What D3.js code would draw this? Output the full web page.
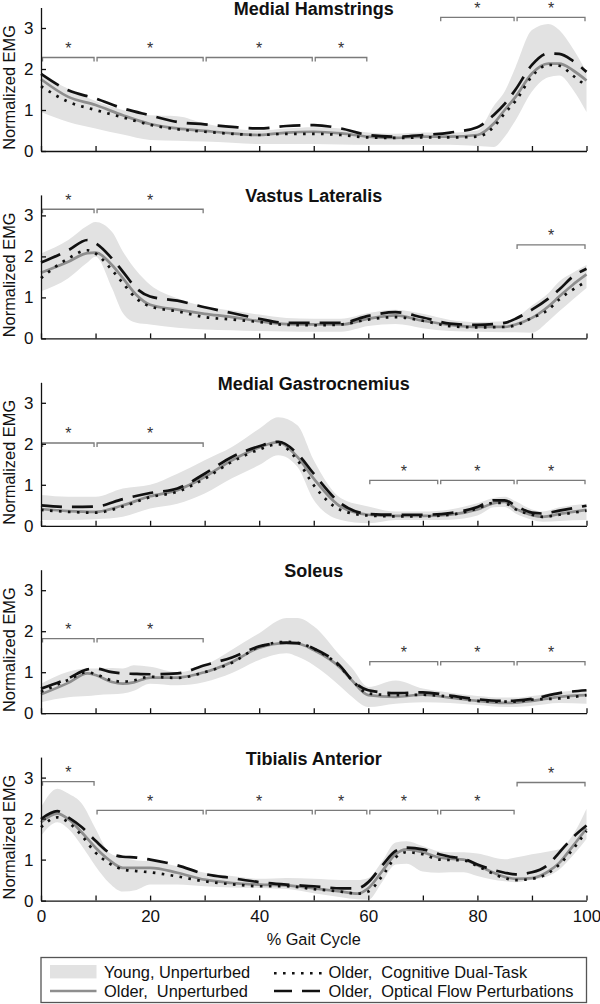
<!DOCTYPE html>
<html>
<head>
<meta charset="utf-8">
<script src="https://cdn.jsdelivr.net/npm/d3@7"></script>
<style>
  html, body { margin: 0; padding: 0; background: #fff; }
  svg { display: block; }
  text { font-family: "Liberation Sans", Arial, Helvetica, sans-serif; fill: #111; }
</style>
</head>
<body>
<script>
// ---------------- DATA ----------------
const muscleTitles = ["Medial Hamstrings", "Vastus Lateralis", "Medial Gastrocnemius", "Soleus", "Tibialis Anterior"];
const xTickValues = [0, 10, 20, 30, 40, 50, 60, 70, 80, 90, 100];
const xTickLabels = ["0", "", "20", "", "40", "", "60", "", "80", "", "100"];
const yTickValues = [0, 1, 2, 3];
const legendLabels = ["Young, Unperturbed", "Older,  Unperturbed", "Older,  Cognitive Dual-Task", "Older,  Optical Flow Perturbations"];

// Medial Hamstrings
const hamX       = [0, 5, 10, 15, 20, 25, 30, 35, 40, 45, 50, 55, 60, 65, 70, 75, 80, 83, 85, 87, 90, 93, 95, 97.5, 100];
const hamOlder   = [1.75, 1.32, 1.12, 0.87, 0.66, 0.55, 0.49, 0.43, 0.39, 0.45, 0.47, 0.43, 0.35, 0.32, 0.35, 0.35, 0.39, 0.67, 1.0, 1.32, 1.89, 2.13, 2.13, 1.97, 1.72];
const hamDual    = [1.58, 1.2, 1.0, 0.82, 0.64, 0.53, 0.47, 0.42, 0.39, 0.42, 0.42, 0.39, 0.33, 0.32, 0.33, 0.33, 0.35, 0.59, 0.92, 1.22, 1.82, 2.1, 2.08, 1.84, 1.58];
const hamOptical = [1.88, 1.48, 1.28, 1.04, 0.87, 0.71, 0.65, 0.59, 0.55, 0.61, 0.63, 0.55, 0.39, 0.35, 0.39, 0.45, 0.58, 0.88, 1.15, 1.5, 2.1, 2.38, 2.37, 2.2, 1.93];
const hamYoungHi = [1.85, 1.52, 1.22, 1.0, 0.87, 0.85, 0.67, 0.55, 0.5, 0.55, 0.58, 0.55, 0.45, 0.42, 0.45, 0.45, 0.5, 1.1, 1.45, 2.05, 2.95, 3.1, 2.95, 2.5, 1.93];
const hamYoungLo = [0.95, 0.71, 0.55, 0.4, 0.27, 0.25, 0.23, 0.2, 0.17, 0.17, 0.17, 0.16, 0.15, 0.15, 0.15, 0.15, 0.12, 0.1, 0.35, 0.75, 1.45, 1.8, 1.84, 1.5, 0.95];
const hamSig     = [[0, 10, 2.28], [10, 30, 2.28], [30, 50, 2.28], [50, 60, 2.28], [73, 87, 3.26], [87, 100, 3.26]];

// Vastus Lateralis
const vasX       = [0, 5, 8.5, 10, 13, 15, 17.5, 20, 25, 30, 35, 40, 45, 50, 55, 60, 65, 70, 75, 80, 85, 87, 90, 93, 95, 97.5, 100];
const vasOlder   = [1.6, 1.87, 2.08, 2.09, 1.79, 1.47, 1.06, 0.82, 0.7, 0.6, 0.52, 0.42, 0.35, 0.34, 0.34, 0.48, 0.56, 0.43, 0.33, 0.28, 0.28, 0.34, 0.5, 0.78, 1.02, 1.31, 1.56];
const vasDual    = [1.47, 1.95, 2.15, 2.07, 1.67, 1.35, 0.97, 0.78, 0.66, 0.52, 0.46, 0.4, 0.33, 0.32, 0.34, 0.46, 0.52, 0.43, 0.3, 0.27, 0.28, 0.32, 0.5, 0.7, 0.95, 1.19, 1.39];
const vasOptical = [1.85, 2.15, 2.4, 2.32, 1.95, 1.63, 1.22, 1.02, 0.92, 0.76, 0.62, 0.48, 0.38, 0.38, 0.38, 0.55, 0.64, 0.51, 0.36, 0.33, 0.38, 0.48, 0.7, 0.97, 1.19, 1.51, 1.7];
const vasYoungHi = [2.07, 2.4, 2.75, 2.84, 2.6, 2.12, 1.65, 1.31, 0.98, 0.78, 0.68, 0.58, 0.5, 0.48, 0.48, 0.62, 0.7, 0.6, 0.45, 0.4, 0.42, 0.5, 0.8, 1.1, 1.39, 1.6, 1.79];
const vasYoungLo = [1.15, 1.47, 1.85, 1.99, 1.23, 0.62, 0.38, 0.34, 0.26, 0.22, 0.2, 0.18, 0.17, 0.16, 0.16, 0.3, 0.35, 0.25, 0.18, 0.16, 0.15, 0.15, 0.14, 0.42, 0.66, 0.95, 1.23];
const vasSig     = [[0, 10, 3.15], [10, 30, 3.15], [87, 100, 2.28]];

// Medial Gastrocnemius
const gasX       = [0, 5, 10, 15, 20, 25, 30, 35, 40, 43.5, 47, 50, 55, 60, 65, 70, 75, 80, 83, 85, 87, 90, 92, 95, 100];
const gasOlder   = [0.41, 0.36, 0.34, 0.5, 0.72, 0.87, 1.19, 1.6, 1.91, 2.04, 1.68, 1.15, 0.46, 0.27, 0.24, 0.24, 0.27, 0.4, 0.55, 0.58, 0.42, 0.26, 0.22, 0.29, 0.39];
const gasDual    = [0.39, 0.34, 0.32, 0.47, 0.7, 0.83, 1.15, 1.56, 1.86, 1.99, 1.6, 0.99, 0.38, 0.25, 0.23, 0.23, 0.27, 0.42, 0.56, 0.55, 0.4, 0.27, 0.22, 0.27, 0.37];
const gasOptical = [0.5, 0.46, 0.47, 0.65, 0.8, 0.91, 1.27, 1.68, 1.94, 2.05, 1.76, 1.27, 0.54, 0.29, 0.27, 0.27, 0.31, 0.46, 0.62, 0.62, 0.49, 0.32, 0.3, 0.37, 0.49];
const gasYoungHi = [0.75, 0.71, 0.71, 0.91, 1.0, 1.27, 1.6, 1.92, 2.37, 2.65, 2.45, 1.6, 0.67, 0.47, 0.35, 0.35, 0.4, 0.55, 0.68, 0.71, 0.6, 0.4, 0.35, 0.45, 0.54];
const gasYoungLo = [0.14, 0.14, 0.16, 0.22, 0.42, 0.54, 0.79, 1.16, 1.48, 1.72, 1.44, 0.63, 0.14, 0.06, 0.14, 0.14, 0.15, 0.25, 0.45, 0.46, 0.3, 0.15, 0.1, 0.12, 0.14];
const gasSig     = [[0, 10, 2.02], [10, 30, 2.02], [60, 73, 1.11], [73, 87, 1.11], [87, 100, 1.11]];

// Soleus
const solX       = [0, 5, 8.5, 10, 13, 15, 17, 20, 25, 30, 35, 40, 45, 47, 50, 55, 57, 60, 65, 70, 75, 80, 85, 87, 90, 95, 100];
const solOlder   = [0.46, 0.74, 0.97, 0.93, 0.76, 0.72, 0.75, 0.87, 0.87, 1.0, 1.25, 1.6, 1.71, 1.7, 1.54, 1.09, 0.8, 0.44, 0.4, 0.45, 0.38, 0.3, 0.25, 0.26, 0.3, 0.4, 0.44];
const solDual    = [0.52, 0.81, 1.0, 0.95, 0.8, 0.77, 0.8, 0.89, 0.86, 1.0, 1.23, 1.62, 1.74, 1.72, 1.57, 1.11, 0.81, 0.48, 0.44, 0.45, 0.4, 0.3, 0.28, 0.28, 0.33, 0.36, 0.44];
const solOptical = [0.6, 0.85, 1.07, 1.09, 1.0, 0.97, 0.96, 0.95, 0.97, 1.17, 1.36, 1.63, 1.72, 1.71, 1.58, 1.13, 0.81, 0.56, 0.49, 0.51, 0.43, 0.34, 0.3, 0.31, 0.35, 0.49, 0.56];
const solYoungHi = [0.72, 1.01, 1.09, 1.09, 1.1, 1.09, 1.17, 1.13, 1.0, 1.17, 1.55, 1.95, 2.32, 2.32, 2.12, 1.38, 1.1, 0.64, 0.8, 0.6, 0.5, 0.42, 0.38, 0.38, 0.42, 0.52, 0.56];
const solYoungLo = [0.27, 0.39, 0.42, 0.44, 0.46, 0.48, 0.55, 0.72, 0.68, 0.76, 0.98, 1.3, 1.46, 1.38, 1.17, 0.64, 0.4, 0.15, 0.23, 0.27, 0.25, 0.2, 0.15, 0.15, 0.18, 0.25, 0.23];
const solSig     = [[0, 10, 1.82], [10, 30, 1.82], [60, 73, 1.26], [73, 87, 1.26], [87, 100, 1.26]];

// Tibialis Anterior
const tibX       = [0, 3, 5, 7.5, 10, 12.5, 15, 17.5, 20, 25, 30, 35, 40, 45, 50, 55, 58, 60, 62.5, 65, 67, 70, 73, 75, 77.5, 80, 85, 87, 90, 93, 95, 97.5, 100];
const tibOlder   = [1.91, 2.12, 1.99, 1.66, 1.29, 0.99, 0.8, 0.8, 0.8, 0.68, 0.51, 0.43, 0.39, 0.37, 0.3, 0.22, 0.17, 0.3, 0.71, 1.13, 1.25, 1.18, 1.05, 1.02, 1.0, 0.86, 0.58, 0.53, 0.55, 0.71, 0.92, 1.33, 1.76];
const tibDual    = [1.79, 2.03, 1.91, 1.58, 1.17, 0.91, 0.76, 0.72, 0.69, 0.59, 0.47, 0.4, 0.35, 0.35, 0.28, 0.22, 0.17, 0.22, 0.59, 1.05, 1.18, 1.13, 1.0, 0.99, 0.98, 0.84, 0.55, 0.5, 0.53, 0.67, 0.88, 1.25, 1.7];
const tibOptical = [1.99, 2.18, 2.03, 1.79, 1.46, 1.17, 1.07, 1.05, 1.0, 0.86, 0.65, 0.55, 0.45, 0.39, 0.35, 0.3, 0.3, 0.45, 0.85, 1.21, 1.29, 1.25, 1.13, 1.07, 1.02, 0.88, 0.68, 0.64, 0.69, 0.88, 1.17, 1.54, 1.83];
const tibYoungHi = [2.28, 2.73, 2.61, 2.36, 1.75, 1.17, 1.05, 0.98, 0.96, 0.84, 0.68, 0.6, 0.53, 0.55, 0.53, 0.5, 0.5, 0.55, 0.95, 1.42, 1.45, 1.33, 1.2, 1.18, 1.18, 1.15, 1.01, 1.05, 1.13, 1.2, 1.25, 1.6, 2.24];
const tibYoungLo = [1.58, 1.91, 1.75, 1.33, 0.84, 0.43, 0.22, 0.26, 0.39, 0.39, 0.35, 0.32, 0.31, 0.28, 0.18, 0.08, 0.03, 0.02, 0.45, 0.88, 0.9, 0.71, 0.68, 0.69, 0.69, 0.6, 0.47, 0.45, 0.51, 0.6, 0.76, 1.1, 1.5];
const tibSig     = [[0, 10, 2.9], [10, 30, 2.2], [30, 50, 2.2], [50, 60, 2.2], [60, 73, 2.2], [73, 87, 2.2], [87, 100, 2.88]];

// ---------------- BUILD ----------------
const panels = [
  { x: hamX, older: hamOlder, dual: hamDual, optical: hamOptical, hi: hamYoungHi, lo: hamYoungLo, sig: hamSig },
  { x: vasX, older: vasOlder, dual: vasDual, optical: vasOptical, hi: vasYoungHi, lo: vasYoungLo, sig: vasSig },
  { x: gasX, older: gasOlder, dual: gasDual, optical: gasOptical, hi: gasYoungHi, lo: gasYoungLo, sig: gasSig },
  { x: solX, older: solOlder, dual: solDual, optical: solOptical, hi: solYoungHi, lo: solYoungLo, sig: solSig },
  { x: tibX, older: tibOlder, dual: tibDual, optical: tibOptical, hi: tibYoungHi, lo: tibYoungLo, sig: tibSig }
];

const FONT = '"Liberation Sans", Arial, Helvetica, sans-serif';
const BAND = "#e2e2e2", GRAYLINE = "#8e8e8e", INK = "#111";
const DASH = "21,10", DOT = "2.6,6.4", LEGDASH = "18,10";

const svg = d3.select("body").append("svg").attr("width", 600).attr("height", 1004);

const x = d3.scaleLinear().domain([0, 100]).range([41, 586.5]);
const panelStep = 187.4, firstBase = 151, plotH = 143.5;

const curve = d3.curveMonotoneX;

panels.forEach((p, i) => {
  const base = firstBase + i * panelStep;
  const y = d3.scaleLinear().domain([0, 3.5]).range([base, base - plotH]);
  const g = svg.append("g");
  const idx = d3.range(p.x.length);

  // band
  g.append("path")
    .attr("d", d3.area().curve(curve).x(k => x(p.x[k])).y0(k => y(p.lo[k])).y1(k => y(p.hi[k]))(idx))
    .attr("fill", BAND).attr("stroke", "none");

  const line = key => d3.line().curve(curve).x(k => x(p.x[k])).y(k => y(p[key][k]))(idx);

  g.append("path").attr("d", line("older")).attr("fill", "none")
    .attr("stroke", GRAYLINE).attr("stroke-width", 2.7);
  g.append("path").attr("d", line("dual")).attr("fill", "none")
    .attr("stroke", INK).attr("stroke-width", 2.7).attr("stroke-dasharray", DOT);
  g.append("path").attr("d", line("optical")).attr("fill", "none")
    .attr("stroke", INK).attr("stroke-width", 2.7).attr("stroke-dasharray", DASH);

  // significance brackets
  p.sig.forEach(s => {
    const x0 = x(s[0]) + 1.5, x1 = x(s[1]) - 1.5, yy = y(s[2]);
    g.append("path")
      .attr("d", `M${x0},${yy + 4}V${yy}H${x1}V${yy + 4}`)
      .attr("fill", "none").attr("stroke", "#7a7a7a").attr("stroke-width", 1.3);
    g.append("text").attr("x", (x(s[0]) + x(s[1])) / 2).attr("y", yy - 3.5)
      .attr("text-anchor", "middle").style("font-size", "16px").style("fill", "#333")
      .text("*");
  });

  // axes
  const ax = g.append("g").attr("transform", `translate(${x(0)},0)`)
    .call(d3.axisLeft(y).tickValues(yTickValues).tickSize(-5).tickSizeOuter(0).tickPadding(7.5).tickFormat(d3.format("d")));
  const bx = g.append("g").attr("transform", `translate(0,${base})`)
    .call(d3.axisBottom(x).tickValues(xTickValues).tickSize(-5).tickSizeOuter(0).tickPadding(9)
      .tickFormat((d, j) => i === panels.length - 1 ? xTickLabels[j] : ""));
  [ax, bx].forEach(a => {
    a.selectAll("path, line").attr("stroke", INK).attr("stroke-width", 1.3);
    a.selectAll("text").style("font-family", FONT).style("font-size", "17px").attr("fill", INK);
  });

  // title
  g.append("text").attr("x", (x(0) + x(100)) / 2).attr("y", base - plotH + 7.5)
    .attr("text-anchor", "middle").style("font-size", "18px").style("font-weight", "bold")
    .text(muscleTitles[i]);

  // y label
  g.append("text").attr("transform", `translate(15,${y(1.55)}) rotate(-90)`)
    .attr("text-anchor", "middle").style("font-size", "16.4px").text("Normalized EMG");
});

// x label
svg.append("text").attr("x", (x(0) + x(100)) / 2).attr("y", 945)
  .attr("text-anchor", "middle").style("font-size", "16.3px").text("% Gait Cycle");

// legend
const lg = svg.append("g");
lg.append("rect").attr("x", x(0)).attr("y", 957.5).attr("width", x(100) - x(0)).attr("height", 45)
  .attr("fill", "#fff").attr("stroke", "#555").attr("stroke-width", 1.3);
const rows = [971.7, 991];
const col1 = 50, col2 = 274, swW = 46.5;
lg.append("rect").attr("x", col1).attr("y", rows[0] - 6.7).attr("width", swW).attr("height", 13.4).attr("fill", BAND);
lg.append("line").attr("x1", col1).attr("x2", col1 + swW).attr("y1", rows[1]).attr("y2", rows[1])
  .attr("stroke", GRAYLINE).attr("stroke-width", 2.7);
lg.append("line").attr("x1", col2).attr("x2", col2 + 48).attr("y1", rows[0] + 1.5).attr("y2", rows[0] + 1.5)
  .attr("stroke", INK).attr("stroke-width", 2.6).attr("stroke-dasharray", DOT);
lg.append("line").attr("x1", col2).attr("x2", col2 + 46).attr("y1", rows[1]).attr("y2", rows[1])
  .attr("stroke", INK).attr("stroke-width", 2.7).attr("stroke-dasharray", LEGDASH);
const legPos = [[104, rows[0]], [104, rows[1]], [328.5, rows[0]], [328.5, rows[1]]];
legendLabels.forEach((t, j) => {
  lg.append("text").attr("x", legPos[j][0]).attr("y", legPos[j][1] + 5.8)
    .style("font-size", "16.4px").style("white-space", "pre").attr("xml:space", "preserve").text(t);
});
</script>
</body>
</html>
